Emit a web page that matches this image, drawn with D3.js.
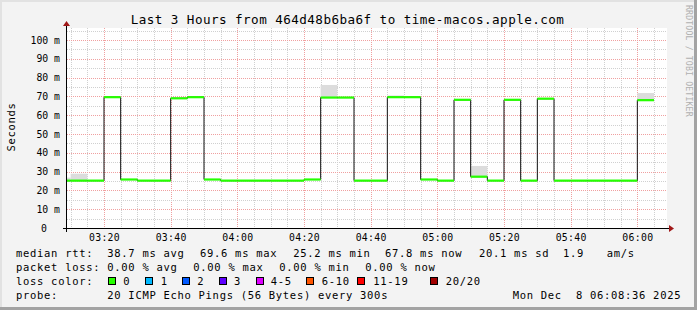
<!DOCTYPE html>
<html>
<head>
<meta charset="utf-8">
<script src="https://cdn.jsdelivr.net/npm/d3@7"></script>
<style>
  html, body { margin: 0; padding: 0; background: #f3f3f3; }
  svg { display: block; }
  text { font-family: "DejaVu Sans Mono", monospace; }
</style>
</head>
<body>
<script>
// ---------------- DATA ----------------
const title = "Last 3 Hours from 464d48b6ba6f to time-macos.apple.com";
const yAxisTitle = "Seconds";
const sideCredit = "RRDTOOL / TOBI OETIKER";

// 5-minute intervals (start time "HH:MM")
const intervalStarts = [
  "03:05","03:10","03:15","03:20","03:25","03:30","03:35","03:40","03:45","03:50",
  "03:55","04:00","04:05","04:10","04:15","04:20","04:25","04:30","04:35","04:40",
  "04:45","04:50","04:55","05:00","05:05","05:10","05:15","05:20","05:25","05:30",
  "05:35","05:40","05:45","05:50","05:55","06:00"
];
// median rtt (ms)
const medianRtt = [
  25.2, 25.2, 25.2, 69.6, 25.8, 25.2, 25.2, 69.0, 69.6, 25.8,
  25.2, 25.2, 25.2, 25.2, 25.2, 25.8, 69.4, 69.4, 25.2, 25.2,
  69.6, 69.6, 25.8, 25.2, 68.2, 27.3, 25.2, 68.2, 25.2, 68.8,
  25.2, 25.2, 25.2, 25.2, 25.2, 68.0
];
// smoke (ping spread) where visible: start, low, high (ms)
const smokeStarts = ["03:05","03:10","04:25","04:45","05:10","06:00"];
const smokeLow    = [25.0, 25.0, 69.4, 69.6, 27.3, 68.0];
const smokeHigh   = [26.8, 28.9, 76.1, 70.5, 33.0, 71.8];

const yTickValues = [0,10,20,30,40,50,60,70,80,90,100];
const yTickLabels = ["0","10 m","20 m","30 m","40 m","50 m","60 m","70 m","80 m","90 m","100 m"];
const xTickLabels = ["03:20","03:40","04:00","04:20","04:40","05:00","05:20","05:40","06:00"];

const rangeStart = "03:08:54";
const rangeEnd   = "06:08:54";
const yMax = 106.4;

const legendRtt  = ["median rtt:", "38.7 ms avg", "69.6 ms max", "25.2 ms min", "67.8 ms now", "20.1 ms sd", "1.9", "am/s"];
const legendLoss = ["packet loss:", "0.00 % avg", "0.00 % max", "0.00 % min", "0.00 % now"];
const lossLabels = ["0","1","2","3","4-5","6-10","11-19","20/20"];
const lossColors = ["#26ff00","#00b8ff","#0059ff","#5e00ff","#dd00ff","#ff5500","#ff0000","#a10000"];
const probeText  = ["probe:", "20 ICMP Echo Pings (56 Bytes) every 300s", "Mon Dec  8 06:08:36 2025"];

// ---------------- DRAW ----------------
const W = 697, H = 310;
const PL = 67, PR = 667, PT = 28, PB = 228;

function t(hhmm) {
  const p = hhmm.split(":").map(Number);
  return new Date(2025, 11, 8, p[0], p[1], p[2] || 0);
}

const svg = d3.select("body").append("svg").attr("width", W).attr("height", H);

// frame
svg.append("rect").attr("x",0).attr("y",0).attr("width",W).attr("height",H).attr("fill","#f3f3f3");
svg.append("rect").attr("x",0).attr("y",0).attr("width",W).attr("height",2).attr("fill","#e2e2e2");
svg.append("rect").attr("x",0).attr("y",0).attr("width",2).attr("height",H).attr("fill","#e2e2e2");
svg.append("rect").attr("x",W-3).attr("y",0).attr("width",3).attr("height",H).attr("fill","#a3a3a3");
svg.append("rect").attr("x",0).attr("y",H-3).attr("width",W).attr("height",3).attr("fill","#a3a3a3");

const x = d3.scaleTime().domain([t(rangeStart), t(rangeEnd)]).range([PL, PR]);
const y = d3.scaleLinear().domain([0, yMax]).range([PB, PT]);

// canvas
svg.append("rect").attr("x",PL).attr("y",PT).attr("width",PR-PL).attr("height",PB-PT).attr("fill","#ffffff");

const grid = svg.append("g").attr("shape-rendering","crispEdges");
// minor vertical (every 5 min), major every 20 min
const minorX = d3.timeMinute.every(5).range(x.domain()[0], x.domain()[1]);
minorX.forEach(d => {
  const major = d.getMinutes() % 20 === 0;
  const xx = Math.round(x(d)) + 0.5;
  grid.append("line").attr("x1",xx).attr("x2",xx).attr("y1",PT).attr("y2",PB)
    .attr("stroke", major ? "#f0a0a0" : "#d0d0d0").attr("stroke-dasharray","1,1");
});
// horizontal: minor every 5, major every 10
d3.range(5, yMax, 5).forEach(v => {
  const major = v % 10 === 0;
  const yy = Math.round(y(v)) + 0.5;
  grid.append("line").attr("x1",PL).attr("x2",PR).attr("y1",yy).attr("y2",yy)
    .attr("stroke", major ? "#f0a0a0" : "#d0d0d0").attr("stroke-dasharray","1,1");
});

// clip
svg.append("clipPath").attr("id","plotclip").append("rect")
  .attr("x",PL).attr("y",PT).attr("width",PR-PL).attr("height",PB-PT);
const plot = svg.append("g").attr("clip-path","url(#plotclip)");

const step = 5 * 60 * 1000;
// smoke
plot.selectAll("rect.smoke").data(smokeStarts).enter().append("rect")
  .attr("class","smoke")
  .attr("x", d => x(t(d)))
  .attr("width", d => x(new Date(+t(d) + step)) - x(t(d)))
  .attr("y", (d,i) => y(smokeHigh[i]))
  .attr("height", (d,i) => y(smokeLow[i]) - y(smokeHigh[i]))
  .attr("fill","#dcdcdc");

// median step line (black)
const pts = [];
intervalStarts.forEach((s,i) => {
  pts.push([t(s), medianRtt[i]]);
  pts.push([new Date(+t(s) + step), medianRtt[i]]);
});
const line = d3.line().x(d => x(d[0])).y(d => y(d[1]));
plot.append("path").attr("d", line(pts)).attr("fill","none").attr("stroke","#111").attr("stroke-width",1);

// loss-coloured median segments
plot.selectAll("line.med").data(intervalStarts).enter().append("line")
  .attr("class","med")
  .attr("x1", d => x(t(d)))
  .attr("x2", d => x(new Date(+t(d) + step)))
  .attr("y1", (d,i) => y(medianRtt[i]))
  .attr("y2", (d,i) => y(medianRtt[i]))
  .attr("stroke", lossColors[0]).attr("stroke-width", 2.2);

// axes
const xAxis = d3.axisBottom(x)
  .tickValues(xTickLabels.map(t))
  .tickFormat((d,i) => xTickLabels[i])
  .tickSize(0).tickPadding(6);
const gx = svg.append("g").attr("transform",`translate(0,${PB})`).call(xAxis);
gx.select(".domain").remove();
gx.selectAll("text").attr("font-family","DejaVu Sans Mono").attr("font-size","9.8px")
  .attr("letter-spacing","0.3px").attr("fill","#000");

const yAxis = d3.axisLeft(y)
  .tickValues(yTickValues)
  .tickFormat((d,i) => yTickLabels[i])
  .tickSize(0).tickPadding(7);
const gy = svg.append("g").attr("transform",`translate(${PL},0)`).call(yAxis);
gy.select(".domain").remove();
gy.selectAll("text").attr("font-family","DejaVu Sans Mono").attr("font-size","9.8px").attr("fill","#000")
  .attr("x", d => d === 0 ? -20 : -7);

// axis lines and arrows
svg.append("line").attr("x1",63).attr("x2",670).attr("y1",PB+0.5).attr("y2",PB+0.5)
  .attr("stroke","#000").attr("shape-rendering","crispEdges");
svg.append("line").attr("x1",66.5).attr("x2",66.5).attr("y1",232).attr("y2",25)
  .attr("stroke","#000").attr("shape-rendering","crispEdges");
svg.append("path").attr("d","M669,225L674,228.5L669,232Z").attr("fill","#a01818");
svg.append("path").attr("d","M63,26L66.5,21L70,26Z").attr("fill","#a01818");

// title
svg.append("text").attr("x",347.5).attr("y",24).attr("text-anchor","middle")
  .attr("font-size","12.6px").attr("letter-spacing","0.45px").attr("fill","#000").text(title);

// y axis title
svg.append("text").attr("transform","translate(14.5,127) rotate(-90)").attr("text-anchor","middle")
  .attr("font-size","10.5px").attr("letter-spacing","0.7px").attr("fill","#000").text(yAxisTitle);

// side credit
svg.append("text").attr("transform","translate(686,5) rotate(90)")
  .attr("font-size","8.2px").attr("letter-spacing","0.15px").attr("fill","#b0b0b0").text(sideCredit);

// legend
const lg = svg.append("g").attr("font-size","10.5px").attr("letter-spacing","0.7px").attr("fill","#000");
const rttX = [16, 107.3, 200, 293.3, 385, 479, 563, 606.7];
legendRtt.forEach((s,i) => lg.append("text").attr("x",rttX[i]).attr("y",257).text(s));
const lossX = [16, 107.3, 193.3, 279.3, 365.3];
legendLoss.forEach((s,i) => lg.append("text").attr("x",lossX[i]).attr("y",271).text(s));
lg.append("text").attr("x",16).attr("y",285).text("loss color:");
const boxX = [108.5, 145.5, 182.5, 219.5, 256.5, 306.5, 357.5, 430.5];
const lblX = [123.3, 160.7, 197.3, 234, 270.7, 321.7, 373.3, 445.7];
lossLabels.forEach((s,i) => {
  lg.append("rect").attr("x",boxX[i]).attr("y",277.5).attr("width",7).attr("height",7)
    .attr("fill",lossColors[i]).attr("stroke","#000").attr("stroke-width",1);
  lg.append("text").attr("x",lblX[i]).attr("y",285).text(s);
});
const probeX = [16, 107.3, 512.7];
probeText.forEach((s,i) => lg.append("text").attr("x",probeX[i]).attr("y",299)
  .attr("xml:space","preserve").style("white-space","pre").text(s));
</script>
</body>
</html>
